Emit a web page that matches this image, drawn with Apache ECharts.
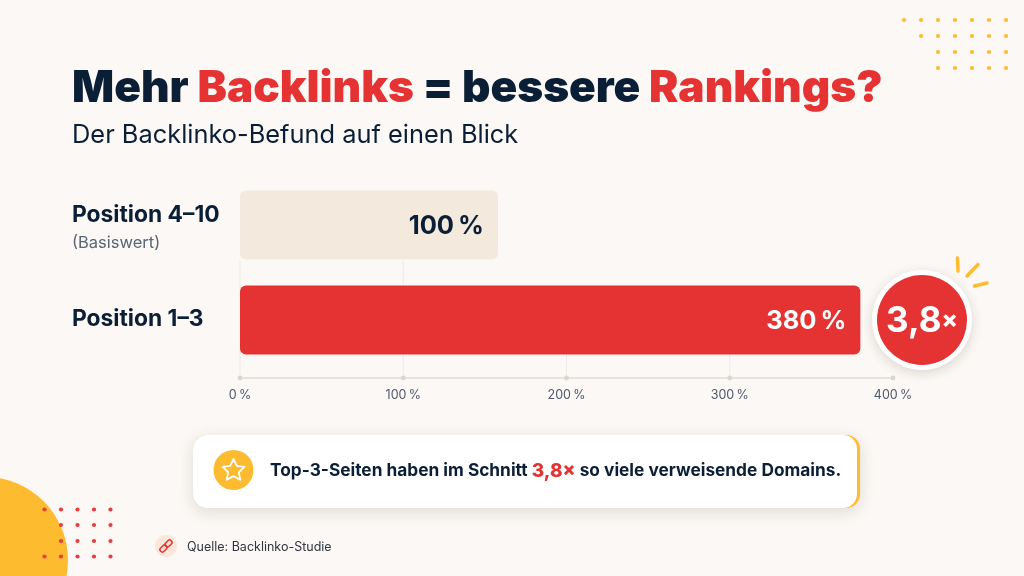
<!DOCTYPE html>
<html lang="de">
<head>
<meta charset="utf-8">
<style>html,body{margin:0;padding:0;background:#fbf8f5}#c{width:1024px;height:576px}</style>
<script src="https://cdn.jsdelivr.net/npm/echarts@6/dist/echarts.min.js"></script>
</head>
<body>
<div id="c"></div>
<script>
// Data
const categories = ['Position 4–10', 'Position 1–3'];
const categoryNotes = ['(Basiswert)', ''];
// Bar lengths as drawn against the axis. The reference labels the upper bar
// "100 %" but draws it out to about 158 on its own axis; that is reproduced here.
const barLengths = [158, 380];
const barLabels = ['100\u202F%', '380\u202F%'];
const barColors = ['#f3e9dc', '#e53333'];
const labelColors = ['#0a1e36', '#ffffff'];
const axisTicks = [0, 100, 200, 300, 400];
const headlineParts = ['Mehr ', 'Backlinks', ' = bessere ', 'Rankings?'];
const subtitleText = 'Der Backlinko-Befund auf einen Blick';
const badgeValue = '3,8';
const calloutParts = ['Top-3-Seiten haben im Schnitt ', '3,8×', ' so viele verweisende Domains.'];
const sourceText = 'Quelle: Backlinko-Studie';

const FONT = 'Inter, "Noto Sans", sans-serif';
const NAVY = '#0a1e36', RED = '#e53333', YELLOW = '#fdbb30';

const dots = (rows, fill, r) => rows.flatMap(([y, xs]) => xs.map(x => ({
  type: 'circle', shape: { cx: x, cy: y, r }, style: { fill }, z: 2
})));
const yellowX = [904, 921, 938, 955, 972, 989, 1006];
const redX = [44.5, 61, 77.5, 94, 110.5];
const ray = (x1, y1, x2, y2) => ({
  type: 'line', shape: { x1, y1, x2, y2 }, z: 6,
  style: { stroke: YELLOW, lineWidth: 3.5, lineCap: 'round' }
});
const linkPiece = (x, y) => ({
  type: 'rect', x, y, rotation: Math.PI / 4, z: 3,
  shape: { x: -4, y: -2.4, width: 8, height: 4.8, r: 2.4 },
  style: { fill: 'none', stroke: RED, lineWidth: 1.5 }
});
const starPoints = [];
for (let i = 0; i < 10; i++) {
  const a = -Math.PI / 2 + i * Math.PI / 5, rad = i % 2 ? 5.6 : 11.5;
  starPoints.push([233.5 + rad * Math.cos(a), 470.5 + rad * Math.sin(a)]);
}

const decoration = [
  { type: 'circle', shape: { cx: -15, cy: 560, r: 83 }, style: { fill: YELLOW }, z: 1 },
  ...dots([[20, yellowX], [36, yellowX.slice(1)], [52, yellowX.slice(2)], [68, yellowX.slice(2)]], YELLOW, 2.1),
  ...dots([[509.5, redX], [525, redX.slice(1)], [541, redX.slice(1)], [556.5, redX]], '#ee3a3a', 2.1),
  // Multiplier badge
  { type: 'circle', shape: { cx: 922, cy: 320, r: 50 }, z: 5,
    style: { fill: '#fff', shadowBlur: 12, shadowColor: 'rgba(60,40,20,0.16)', shadowOffsetY: 3 } },
  { type: 'circle', shape: { cx: 922, cy: 320, r: 45 }, style: { fill: RED }, z: 6 },
  { type: 'text', x: 922, y: 321, z: 7, style: {
      text: '{v|' + badgeValue + '}{x|×}', align: 'center', verticalAlign: 'middle',
      rich: { v: { fontFamily: FONT, fontSize: 35, fontWeight: 700, fill: '#fff', letterSpacing: -1.5 },
              x: { fontFamily: FONT, fontSize: 24, fontWeight: 800, fill: '#fff' } } } },
  ray(957.5, 258, 958, 271), ray(967, 276, 978, 264.5), ray(974.5, 286, 987, 283),
  // Callout card
  { type: 'rect', shape: { x: 193, y: 435, width: 667, height: 73, r: 14 }, z: 3,
    style: { fill: YELLOW, shadowBlur: 16, shadowColor: 'rgba(60,40,20,0.14)', shadowOffsetY: 4 } },
  { type: 'rect', shape: { x: 193, y: 435, width: 664, height: 73, r: 14 }, style: { fill: '#fff' }, z: 4 },
  { type: 'circle', shape: { cx: 233.5, cy: 470, r: 20 }, style: { fill: YELLOW }, z: 5 },
  { type: 'polygon', shape: { points: starPoints }, z: 6,
    style: { fill: 'none', stroke: '#fff', lineWidth: 1.8, lineJoin: 'round' } },
  { type: 'text', x: 270, y: 471, z: 6, style: {
      text: '{a|' + calloutParts[0] + '}{b|' + calloutParts[1] + '}{a|' + calloutParts[2] + '}',
      align: 'left', verticalAlign: 'middle',
      rich: { a: { fontFamily: FONT, fontSize: 17.3, fontWeight: 700, fill: NAVY },
              b: { fontFamily: FONT, fontSize: 19, fontWeight: 800, fill: RED } } } },
  // Source line
  { type: 'circle', shape: { cx: 166, cy: 546, r: 11 }, style: { fill: '#fbe6da' }, z: 2 },
  linkPiece(163.5, 548.5), linkPiece(168.5, 543.5),
  { type: 'text', x: 187, y: 547, z: 3, style: {
      text: sourceText, align: 'left', verticalAlign: 'middle',
      fontFamily: FONT, fontSize: 12.5, fontWeight: 400, fill: '#2f3640' } }
];

const chart = echarts.init(document.getElementById('c'), null, { renderer: 'canvas' });
chart.setOption({
  backgroundColor: '#fbf8f5',
  animation: false,
  title: [
    { left: 72, top: 67, padding: 0,
      text: headlineParts.map((p, i) => (i % 2 ? '{r|' : '{n|') + p + '}').join(''),
      textStyle: { rich: {
        n: { fontFamily: FONT, fontSize: 44.1, fontWeight: 900, color: NAVY, letterSpacing: -0.6 },
        r: { fontFamily: FONT, fontSize: 44.1, fontWeight: 900, color: RED, letterSpacing: -0.6 } } } },
    { left: 72, top: 123, padding: 0, text: subtitleText,
      textStyle: { fontFamily: FONT, fontSize: 25.4, fontWeight: 400, color: NAVY } }
  ],
  grid: { left: 240, right: 131, top: 177.5, height: 190 },
  xAxis: {
    type: 'value', min: 0, max: 400, interval: 100, offset: 10.5,
    axisLine: { show: true, lineStyle: { color: '#dfdcd8', width: 1.5 } },
    axisTick: { show: false },
    splitLine: { show: false },
    axisLabel: { margin: 11, fontFamily: FONT, fontSize: 12.5, color: '#4f5a6a',
                 customValues: axisTicks, formatter: v => v + '\u202F%' }
  },
  yAxis: {
    type: 'category', inverse: true, data: categories,
    axisLine: { show: false }, axisTick: { show: false }, splitLine: { show: false },
    axisLabel: {
      margin: 168, align: 'left',
      formatter: (v, i) => categoryNotes[i]
        ? '{a|' + v + '}\n{b|' + categoryNotes[i] + '}'
        : '{s|' + v + '}\n{c| }',
      rich: {
        a: { fontFamily: FONT, fontSize: 22.8, fontWeight: 700, color: NAVY, lineHeight: 36, padding: [10, 0, 0, 0] },
        s: { fontFamily: FONT, fontSize: 22.8, fontWeight: 700, color: NAVY, lineHeight: 28 },
        b: { fontFamily: FONT, fontSize: 16.5, fontWeight: 400, color: '#5a6575', lineHeight: 30 },
        c: { fontSize: 1, lineHeight: 2 }
      }
    }
  },
  series: [{
    type: 'bar', barWidth: 69, z: 3,
    data: barLengths.map((v, i) => ({
      value: v,
      itemStyle: { color: barColors[i], borderRadius: 6 },
      label: { color: labelColors[i], formatter: barLabels[i] }
    })),
    label: { show: true, position: 'insideRight', distance: 14, offset: [0, 1.5],
             fontFamily: FONT, fontSize: 25.5, fontWeight: 700, letterSpacing: -0.5 }
  }],
  graphic: decoration
});

// Faint guide lines and round markers on the axis line, placed through the axis scale.
// A guide starts below the lowest bar that covers its tick; the last tick has none.
const axisX = t => chart.convertToPixel({ xAxisIndex: 0 }, t);
const axisMarks = axisTicks.flatMap((t, i) => {
  const marker = { type: 'circle', z: 2, style: { fill: '#d9d6d2' }, shape: { cx: axisX(t), cy: 378, r: 2.4 } };
  if (i === axisTicks.length - 1) return [marker];
  const top = t <= barLengths[0] ? 260 : 355;
  return [{ type: 'line', z: 1, style: { stroke: '#eeebe6', lineWidth: 1 },
            shape: { x1: axisX(t), y1: top, x2: axisX(t), y2: 378 } }, marker];
});
chart.setOption({ graphic: decoration.concat(axisMarks) });
</script>
</body>
</html>
